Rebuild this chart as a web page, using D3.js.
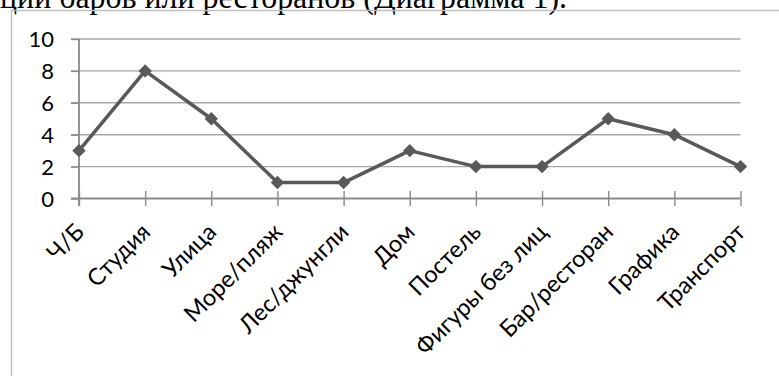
<!DOCTYPE html>
<html><head><meta charset="utf-8">
<script src="https://cdn.jsdelivr.net/npm/d3@7"></script>
<style>html,body{margin:0;padding:0;background:#fff;overflow:hidden}</style>
</head><body>
<svg id="c" width="779" height="376"></svg>
<script>
const categories = ["Ч/Б","Студия","Улица","Море/пляж","Лес/джунгли","Дом","Постель","Фигуры без лиц","Бар/ресторан","Графика","Транспорт"];
const values = [3,8,5,1,1,3,2,2,5,4,2];
const yTicks = [0,2,4,6,8,10];
const headText = "ций баров или ресторанов (Диаграмма 1).";

const svg = d3.select("#c");
const font = "Lato, 'Open Sans', sans-serif";

// header text fragment (cut off at top, as in the reference)
svg.append("text").attr("x",0).attr("y",8)
  .attr("font-family","'Liberation Serif', 'Times New Roman', serif")
  .attr("font-size",34).attr("fill","#000")
  .attr("textLength",567).attr("lengthAdjust","spacingAndGlyphs")
  .text(headText);

// chart frame
svg.append("rect").attr("x",11.5).attr("y",10.5).attr("width",800).attr("height",400)
  .attr("fill","none").attr("stroke","#bdbdbd").attr("stroke-width",1.4);

const x = d3.scalePoint().domain(categories).range([79,740.5]);
const y = d3.scaleLinear().domain([0,10]).range([198.5,39]);

// gridlines
svg.append("g").selectAll("line").data(yTicks.filter(d=>d>0)).join("line")
  .attr("x1",71).attr("x2",740.5).attr("y1",d=>y(d)).attr("y2",d=>y(d))
  .attr("stroke","#a8a8a8").attr("stroke-width",1.4);

// y axis
const yAxis = svg.append("g").attr("transform","translate(79,0)")
  .call(d3.axisLeft(y).tickValues(yTicks).tickSize(8).tickPadding(17).tickFormat(d3.format("d")));
yAxis.select(".domain").attr("stroke","#8a8a8a").attr("stroke-width",1.8).attr("d","M0,"+y(10)+"V206");
yAxis.selectAll(".tick line").attr("stroke","#8a8a8a").attr("stroke-width",1.4);
yAxis.selectAll(".tick text").attr("font-family",font).attr("font-size",22).attr("fill","#000")
  .attr("dy","0.36em");

// x axis
const xAxis = svg.append("g").attr("transform","translate(0,"+y(0)+")")
  .call(d3.axisBottom(x).tickSize(7.5).tickSizeOuter(0));
xAxis.select(".domain").attr("stroke","#8a8a8a").attr("stroke-width",1.8).attr("d","M71,0H740.5");
xAxis.selectAll(".tick line").attr("stroke","#8a8a8a").attr("stroke-width",1.4).attr("y1",-7.5);
xAxis.selectAll(".tick text")
  .attr("font-family",font).attr("font-size",23.5).attr("fill","#000")
  .attr("text-anchor","end").attr("x",0).attr("y",0).attr("dy",null)
  .attr("transform","translate(6,35) rotate(-45)");

// line
const line = d3.line().x((d,i)=>x(categories[i])).y(d=>y(d));
svg.append("path").datum(values).attr("d",line)
  .attr("fill","none").attr("stroke","#595959").attr("stroke-width",3.5).attr("stroke-linejoin","round");

// markers
svg.append("g").selectAll("path").data(values).join("path")
  .attr("transform",(d,i)=>"translate("+x(categories[i])+","+y(d)+")")
  .attr("d",d3.symbol().type(d3.symbolDiamond2).size(115))
  .attr("fill","#595959");
</script>
</body></html>
